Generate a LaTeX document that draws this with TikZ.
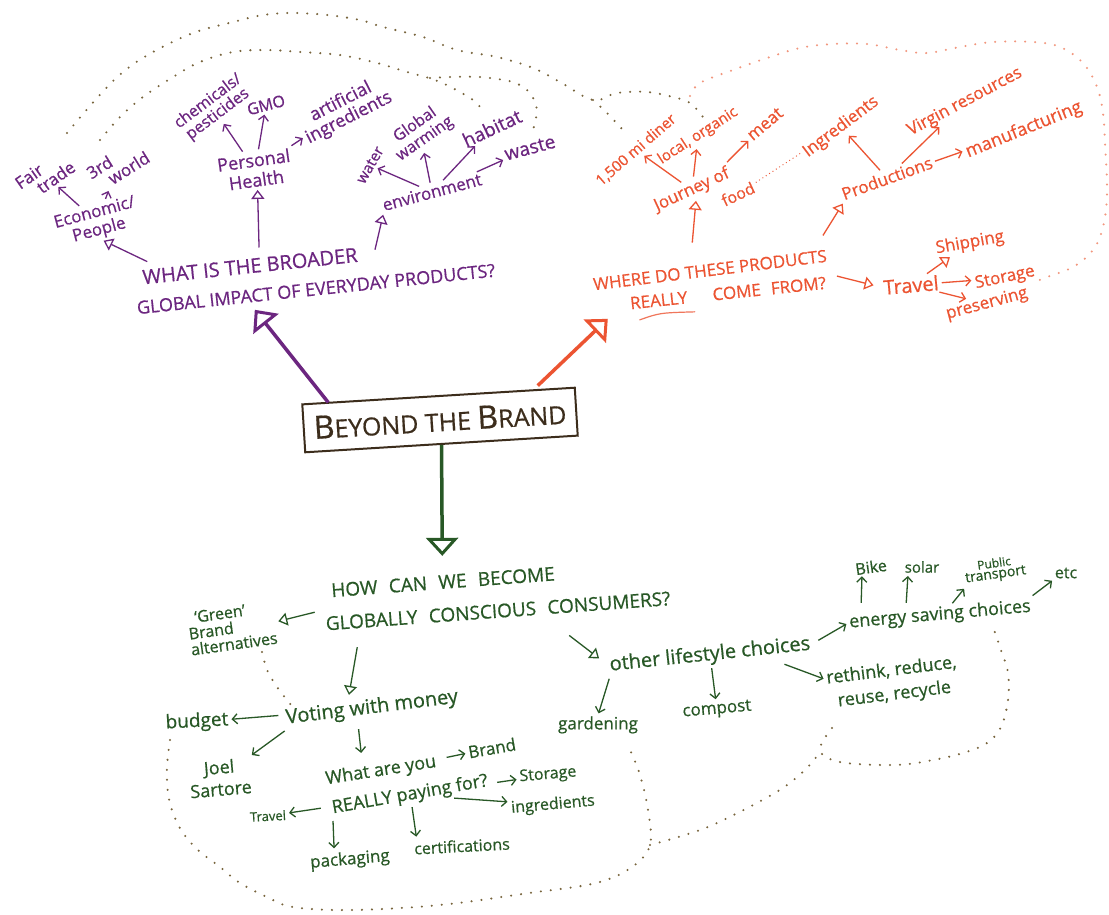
\documentclass[tikz,border=0pt]{standalone}
\usepackage{fontspec}
\setmainfont{Open Sans}[FakeBold=0.6]
\usetikzlibrary{arrows.meta}
\definecolor{pur}{RGB}{108,38,128}
\definecolor{orn}{RGB}{236,84,50}
\definecolor{grn}{RGB}{40,88,38}
\definecolor{boxc}{RGB}{60,45,28}
\definecolor{dotb}{RGB}{120,100,60}
\definecolor{dotor}{RGB}{242,150,125}
\newcommand{\fz}[2]{\fontsize{#1}{#2}\selectfont}
\begin{document}
\begin{tikzpicture}[x=1pt,y=-1pt,
  P/.style={text=pur, inner sep=1pt, align=center},
  O/.style={text=orn, inner sep=1pt, align=center},
  G/.style={text=grn, inner sep=1pt, align=center},
  sa/.style={line width=1.3pt, -{Straight Barb[length=5pt,width=10pt]}, shorten <=2pt, shorten >=2pt},
  ta/.style={line width=1.3pt, -{Triangle[open,length=9pt,width=13pt]}, shorten <=2pt, shorten >=2pt},
  big/.style={line width=3.5pt, -{Triangle[open,length=18pt,width=32pt,line width=3pt]}},
  dots/.style={draw=dotb, line width=2.3pt, line cap=round, dash pattern=on 0pt off 10pt},
  odots/.style={dots, draw=dotor},
]
\useasboundingbox[fill=white] (0,0) rectangle (1109,915);

% ---------- dotted outlines ----------
\draw[dots] plot[smooth, tension=0.6] coordinates {(67,133) (97,98) (123,72) (153,52) (193,33) (233,22) (263,15) (293,13) (327,15) (360,20) (383,27) (423,37) (457,50) (497,57) (533,68) (560,82) (593,100) (617,93) (647,92) (673,97) (690,103) (703,117)};
\draw[dots] plot[smooth] coordinates {(593,100) (607,113) (623,130)};
\draw[dots] plot[smooth, tension=0.6] coordinates {(100,140) (120,117) (143,97) (173,77) (200,62) (233,52) (267,50) (300,52) (340,55) (377,63) (407,72) (440,82) (473,100) (483,112)};
\draw[dots] plot[smooth] coordinates {(430,78) (450,77) (480,77) (513,82) (530,93) (537,110) (533,130)};
\draw[odots] plot[smooth, tension=0.6] coordinates {(690,96) (700,83) (733,70) (767,58) (800,48) (833,44) (867,44) (900,50) (927,53) (960,47) (993,42) (1033,42) (1060,47) (1083,63) (1097,87) (1103,113) (1105,143) (1107,193) (1103,227) (1093,250) (1073,267) (1047,277) (1035,282)};
\draw[dots] plot[smooth] coordinates {(262,652) (267,670) (277,687) (287,700) (295,710)};
\draw[dots] plot[smooth, tension=0.6] coordinates {(170,740) (167,767) (168,793) (173,813) (183,833) (198,850) (220,867) (240,883) (267,897) (293,907) (351,910) (440,905) (529,893) (596,883) (632,867) (650,845) (648,810) (640,775) (630,750)};
\draw[dots] plot[smooth] coordinates {(650,845) (708,827) (775,793) (805,770) (820,752)};
\draw[dots] plot[smooth, tension=0.6] coordinates {(832,728) (820,750) (840,762) (893,765) (928,761) (963,753) (987,743) (1001,727) (1008,700) (1008,673) (1001,650) (994,630)};

% ---------- central box ----------
\node[draw=boxc, line width=2pt, rotate=3.5, minimum width=273pt, minimum height=48pt, inner sep=0pt, text=boxc] (box) at (440,420)
  {{\fz{32}{32}B}{\fz{25}{32}EYOND THE }{\fz{32}{32}B}{\fz{25}{32}RAND}};

% ---------- purple ----------
\node[P, rotate=6, font=\fz{20}{21}] (q1a) at (250,266) {WHAT IS THE BROADER};
\node[P, rotate=6, font=\fz{18}{20}] (q1b) at (316,289) {GLOBAL IMPACT OF EVERYDAY PRODUCTS?};
\node[P, rotate=15, font=\fz{17}{18}] (econ) at (97,222) {Economic/\\People};
\node[P, rotate=35, font=\fz{17}{16}, align=left] (fair) at (45,175) {Fair\\\hspace*{0.9em}trade};
\node[P, rotate=32, font=\fz{17}{16}, align=left] (world) at (118,165) {3rd\\\hspace*{0.9em}world};
\node[P, rotate=8, font=\fz{18}{20}] (ph) at (255,170) {Personal\\Health};
\node[P, rotate=37, font=\fz{16}{16}] (chem) at (213,108) {chemicals/\\pesticides};
\node[P, rotate=15, font=\fz{16}{16}] (gmo) at (266,105) {GMO};
\node[P, rotate=27, font=\fz{18}{18}] (art) at (345,110) {artificial\\ingredients};
\node[P, rotate=60, font=\fz{15}{15}] (water) at (370,165) {water};
\node[P, rotate=35, font=\fz{16}{17}] (gw) at (420,132) {Global\\warming};
\node[P, rotate=25, font=\fz{19}{19}] (hab) at (492,128) {habitat};
\node[P, rotate=15, font=\fz{17}{17}] (env) at (432,192) {environment};
\node[P, rotate=15, font=\fz{19}{19}] (waste) at (530,148) {waste};

\draw[big, pur] ([xshift=27pt,yshift=1pt]box.north west) -- ([xshift=-62pt,yshift=-13pt]q1b.south);
\draw[ta, pur] ([xshift=-100pt,yshift=-5pt]q1a.north) -- (econ.south);
\draw[ta, pur] ([xshift=10pt,yshift=8pt]q1a.north) -- (ph.south);
\draw[ta, pur] ([xshift=16pt,yshift=3pt]q1a.east) -- (env.south west);
\draw[sa, pur] (econ) -- (fair);
\draw[sa, pur] (econ) -- (world);
\draw[sa, pur] (ph) -- (chem);
\draw[sa, pur] (ph) -- (gmo);
\draw[sa, pur] (ph) -- (art);
\draw[sa, pur] (env) -- (water);
\draw[sa, pur] (env) -- (gw);
\draw[sa, pur] (env) -- (hab);
\draw[sa, pur] (env) -- (waste);

% ---------- orange ----------
\node[O, rotate=7, font=\fz{17}{19}] (q2a) at (710,270) {WHERE DO THESE PRODUCTS};
\node[O, rotate=6, font=\fz{17}{19}] (q2b) at (728,293) {REALLY\hspace{1.5em}COME\hspace{0.6em}FROM?};
\node[O, rotate=25, font=\fz{17}{17}] (jr) at (692,190) {Journey of};
\node[O, rotate=25, font=\fz{16}{16}] (food) at (738,194) {food};
\node[O, rotate=41, font=\fz{15}{15}] (mi) at (636,150) {1,500 mi diner};
\node[O, rotate=33, font=\fz{15}{15}] (loc) at (698,136) {local, organic};
\node[O, rotate=40, font=\fz{17}{17}] (meat) at (765,124) {meat};
\node[O, rotate=37, font=\fz{17}{17}] (ingr) at (841,127) {Ingredients};
\node[O, rotate=20, font=\fz{17}{17}] (prod) at (887,178) {Productions};
\node[O, rotate=28, font=\fz{17}{17}] (virg) at (965,102) {Virgin resources};
\node[O, rotate=22, font=\fz{18}{18}] (manu) at (1024,130) {manufacturing};
\node[O, rotate=5, font=\fz{20}{20}] (trav) at (911,285) {Travel};
\node[O, rotate=10, font=\fz{17}{17}] (ship) at (970,243) {Shipping};
\node[O, rotate=12, font=\fz{17}{17}] (stor) at (1005,278) {Storage};
\node[O, rotate=15, font=\fz{17}{17}] (pres) at (987,304) {preserving};

\draw[orn!80, line width=1.2pt, line cap=round] ([xshift=10pt,yshift=-9pt]q2b.south west) .. controls +(20,-7) .. +(55,-8);
\draw[big, orn] ([xshift=-38pt,yshift=1pt]box.north east) -- ([xshift=-22pt,yshift=-8pt]q2b.south west);
\draw[ta, orn] ([xshift=-17pt,yshift=18pt]q2a.north) -- (jr.south);
\draw[ta, orn] ([xshift=-5pt,yshift=11pt]q2a.north east) -- (prod.south west);
\draw[ta, orn, shorten >=9pt] ([xshift=8pt,yshift=7pt]q2b.east) -- (trav.west);
\draw[sa, orn] (jr) -- (mi);
\draw[sa, orn] (jr) -- (loc);
\draw[sa, orn] (jr.north east) -- (meat);
\draw[orn, line width=1.3pt, line cap=round, dash pattern=on 0pt off 4pt, shorten <=3pt, shorten >=3pt] (food) -- (ingr);
\draw[sa, orn] (prod) -- (ingr);
\draw[sa, orn] (prod) -- (virg);
\draw[sa, orn] (prod) -- (manu);
\draw[ta, orn] (trav) -- (ship);
\draw[sa, orn] (trav) -- (stor);
\draw[sa, orn] (trav) -- (pres);

% ---------- green ----------
\node[G, rotate=4.3, font=\fz{19}{21}] (q3a) at (443,582) {HOW\hspace{0.6em}CAN\hspace{0.6em}WE\hspace{0.6em}BECOME};
\node[G, rotate=4.2, font=\fz{19}{21}] (q3b) at (498,611) {GLOBALLY\hspace{0.6em}CONSCIOUS\hspace{0.6em}CONSUMERS?};
\node[G, rotate=8, font=\fz{16}{16}, align=left] (alt) at (232,628) {\hspace*{0.5em}‘Green’\\Brand\\alternatives};
\node[G, rotate=7, font=\fz{20}{20}] (vote) at (372,708) {Voting with money};
\node[G, rotate=3, font=\fz{19}{19}] (bud) at (197,722) {budget};
\node[G, rotate=5, font=\fz{18}{22}] (joel) at (220,778) {Joel\\Sartore};
\node[G, rotate=9, font=\fz{18}{18}] (what) at (381,771) {What are you};
\node[G, rotate=10, font=\fz{18}{18}] (real) at (410,795) {REALLY paying for?};
\node[G, rotate=10, font=\fz{17}{17}] (brand) at (492,748) {Brand};
\node[G, rotate=5, font=\fz{16}{16}] (stor2) at (548,775) {Storage};
\node[G, rotate=5, font=\fz{16}{16}] (ingr2) at (553,805) {ingredients};
\node[G, rotate=3, font=\fz{13}{13}] (trav2) at (268,816) {Travel};
\node[G, rotate=5, font=\fz{17}{17}] (pack) at (350,860) {packaging};
\node[G, rotate=3, font=\fz{16}{16}] (cert) at (462,846) {certifications};
\node[G, rotate=6, font=\fz{20}{20}] (other) at (710,655) {other lifestyle choices};
\node[G, font=\fz{17}{17}] (gard) at (598,725) {gardening};
\node[G, rotate=5, font=\fz{17}{17}] (comp) at (717,710) {compost};
\node[G, rotate=7, font=\fz{18}{24}] (reth) at (893,683) {rethink, reduce,\\reuse, recycle};
\node[G, rotate=5, font=\fz{18}{18}] (ener) at (940,615) {energy saving choices};
\node[G, rotate=8, font=\fz{16}{16}] (bike) at (871,567) {Bike};
\node[G, font=\fz{15}{15}] (solar) at (922,567) {solar};
\node[G, rotate=8, font=\fz{12}{11}] (pub) at (995,570) {Public\\\fz{14}{11}transport};
\node[G, font=\fz{16}{16}] (etc) at (1066,573) {etc};

\draw[big, grn, shorten >=18pt] (box.south) -- (q3a.north);
\draw[ta, grn] ([xshift=-8pt,yshift=12pt]q3b.west) -- (alt.east);
\draw[ta, grn] ([xshift=-141pt,yshift=-26pt]q3b.south) -- ([xshift=-22pt]vote.north);
\draw[ta, grn, shorten >=12pt] ([xshift=69pt,yshift=-15pt]q3b.south) -- (other.west);
\draw[sa, grn, shorten <=6pt] (vote) -- (bud);
\draw[sa, grn] (vote.south west) -- (joel.north east);
\draw[sa, grn] ([xshift=-15pt,yshift=-8pt]vote.south) -- ([xshift=-18pt,yshift=6pt]what.north);
\draw[sa, grn, shorten <=10pt] (what) -- (brand);
\draw[sa, grn, shorten <=8pt] (real) -- (stor2);
\draw[sa, grn] (real) -- (ingr2);
\draw[sa, grn, shorten <=10pt] (real) -- (trav2);
\draw[sa, grn] (real.south west) -- ([xshift=-15pt]pack.north);
\draw[sa, grn] (real.south) -- ([xshift=-45pt]cert.north);
\draw[sa, grn] (other.south west) -- (gard.north);
\draw[sa, grn] (other) -- (comp);
\draw[sa, grn] ([xshift=-30pt,yshift=-8pt]other.south east) -- (reth.170);
\draw[sa, grn, shorten <=8pt] (other.east) -- (ener.west);
\draw[sa, grn] ([xshift=-78pt]ener.north) -- ([xshift=-10pt]bike.south);
\draw[sa, grn] ([xshift=-33pt]ener.north) -- ([xshift=-14pt]solar.south);
\draw[sa, grn] ([xshift=12pt]ener.north) -- (pub.south west);
\draw[sa, grn] (ener.north east) -- (etc.south west);
\end{tikzpicture}
\end{document}
